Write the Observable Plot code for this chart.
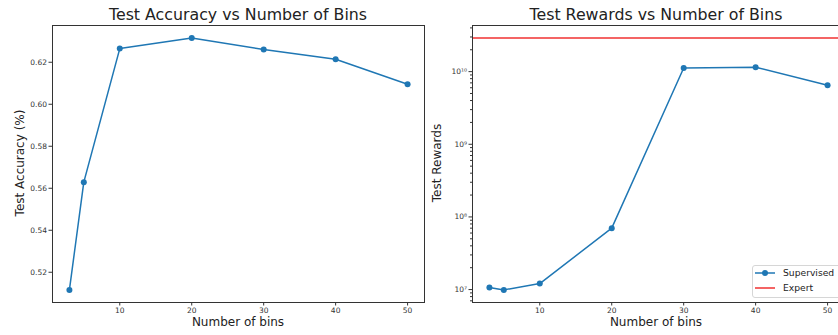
<!DOCTYPE html>
<html><head><meta charset="utf-8">
<script src="https://cdn.jsdelivr.net/npm/d3@7"></script>
<script src="https://cdn.jsdelivr.net/npm/@observablehq/plot@0.6"></script>
<style>
html,body{margin:0;padding:0;background:#fff;overflow:hidden;}
#wrap{position:relative;width:838px;height:335px;overflow:hidden;font-family:"DejaVu Sans",sans-serif;color:#222;}
.title{position:absolute;top:5px;font-size:15.8px;text-align:center;white-space:nowrap;transform:translateX(-50%);}
.xlab{position:absolute;top:315px;font-size:12px;white-space:nowrap;transform:translateX(-50%);}
.ylab{position:absolute;font-size:12px;white-space:nowrap;transform:translate(-50%,-50%) rotate(-90deg);}
.plot{position:absolute;top:20px;width:430px;height:315px;line-height:0;}
.plot svg{max-width:none !important;}
#legend{position:absolute;left:752px;top:265px;width:100px;height:31px;border:1px solid #d6d6d6;border-radius:3px;background:#fff;font-size:9.2px;}
#legend .row{position:absolute;left:2px;display:flex;align-items:center;line-height:10px;}
#legend .row span{margin-left:8px;}
</style>
</head><body>
<div id="wrap">
  <div class="title" style="left:238px">Test Accuracy vs Number of Bins</div>
  <div class="title" style="left:656px">Test Rewards vs Number of Bins</div>
  <div class="xlab" style="left:238px">Number of bins</div>
  <div class="xlab" style="left:656px">Number of bins</div>
  <div class="ylab" style="left:20px;top:163px">Test Accuracy (%)</div>
  <div class="ylab" style="left:437px;top:163px">Test Rewards</div>
  <div id="left" class="plot" style="left:0px"></div>
  <div id="right" class="plot" style="left:420px"></div>
  <div id="legend">
    <div class="row" style="top:2px"><svg width="20" height="10"><line x1="0" y1="5" x2="20" y2="5" stroke="#1f77b4" stroke-width="1.5"/><circle cx="10" cy="5" r="3" fill="#1f77b4"/></svg><span>Supervised</span></div>
    <div class="row" style="top:17px"><svg width="20" height="10"><line x1="0" y1="5" x2="20" y2="5" stroke="#f03030" stroke-width="1.5"/></svg><span>Expert</span></div>
  </div>
</div>
<script>
// Data
const bins = [3, 5, 10, 20, 30, 40, 50];
const accuracy = [0.5116, 0.5629, 0.6265, 0.6315, 0.6261, 0.6214, 0.6095];
const rewards = [1.066e7, 0.99e7, 1.21e7, 7.0e7, 1.12e10, 1.15e10, 6.5e9];
const expertReward = 2.9e10;
const xTicks = [10, 20, 30, 40, 50];
const accTicks = [0.52, 0.54, 0.56, 0.58, 0.60, 0.62];
const rewardTicks = [1e7, 1e8, 1e9, 1e10];

const blue = "#1f77b4";
const accData = bins.map((b, i) => ({bins: b, value: accuracy[i]}));
const rewData = bins.map((b, i) => ({bins: b, value: rewards[i]}));

const sup = {"0":"⁰","1":"¹","2":"²","3":"³","4":"⁴","5":"⁵","6":"⁶","7":"⁷","8":"⁸","9":"⁹"};
const fmtPow = d => "10" + String(Math.round(Math.log10(d))).split("").map(c => sup[c]).join("");

const xDomain = [0.65, 52.35];
const common = {
  width: 430, height: 315,
  marginTop: 5, marginBottom: 33, marginLeft: 52, marginRight: 6,
  style: {fontFamily: "DejaVu Sans, sans-serif", fontSize: "7.5px", color: "#333", background: "transparent", maxWidth: "none"}
};

const left = Plot.plot({
  ...common,
  x: {domain: xDomain},
  y: {domain: [0.5056, 0.6375]},
  marks: [
    Plot.axisX({ticks: xTicks, tickSize: 3.5, label: null, tickPadding: 2}),
    Plot.axisY({ticks: accTicks, tickSize: 3.5, label: null, tickFormat: d3.format(".2f"), tickPadding: 2}),
    Plot.line(accData, {x: "bins", y: "value", stroke: blue, strokeWidth: 1.5}),
    Plot.dot(accData, {x: "bins", y: "value", fill: blue, r: 3}),
    Plot.frame({stroke: "#333", strokeWidth: 1})
  ]
});
document.getElementById("left").appendChild(left);

const yDom = [Math.pow(10, 6.822), Math.pow(10, 10.635)];
const minor = [];
for (let e = 6; e <= 10; e++) for (let k = 2; k <= 9; k++) {
  const v = k * Math.pow(10, e);
  if (v >= yDom[0] && v <= yDom[1]) minor.push(v);
}

const right = Plot.plot({
  ...common,
  x: {domain: xDomain},
  y: {type: "log", domain: yDom},
  marks: [
    Plot.axisX({ticks: xTicks, tickSize: 3.5, label: null, tickPadding: 2}),
    Plot.axisY({ticks: minor, tickSize: 2, label: null, tickFormat: () => ""}),
    Plot.axisY({ticks: rewardTicks, tickSize: 3.5, label: null, tickFormat: fmtPow, tickPadding: 2}),
    Plot.ruleY([expertReward], {stroke: "#f03030", strokeWidth: 1.5}),
    Plot.line(rewData, {x: "bins", y: "value", stroke: blue, strokeWidth: 1.5}),
    Plot.dot(rewData, {x: "bins", y: "value", fill: blue, r: 3}),
    Plot.frame({stroke: "#333", strokeWidth: 1})
  ]
});
document.getElementById("right").appendChild(right);
</script>
</body></html>
